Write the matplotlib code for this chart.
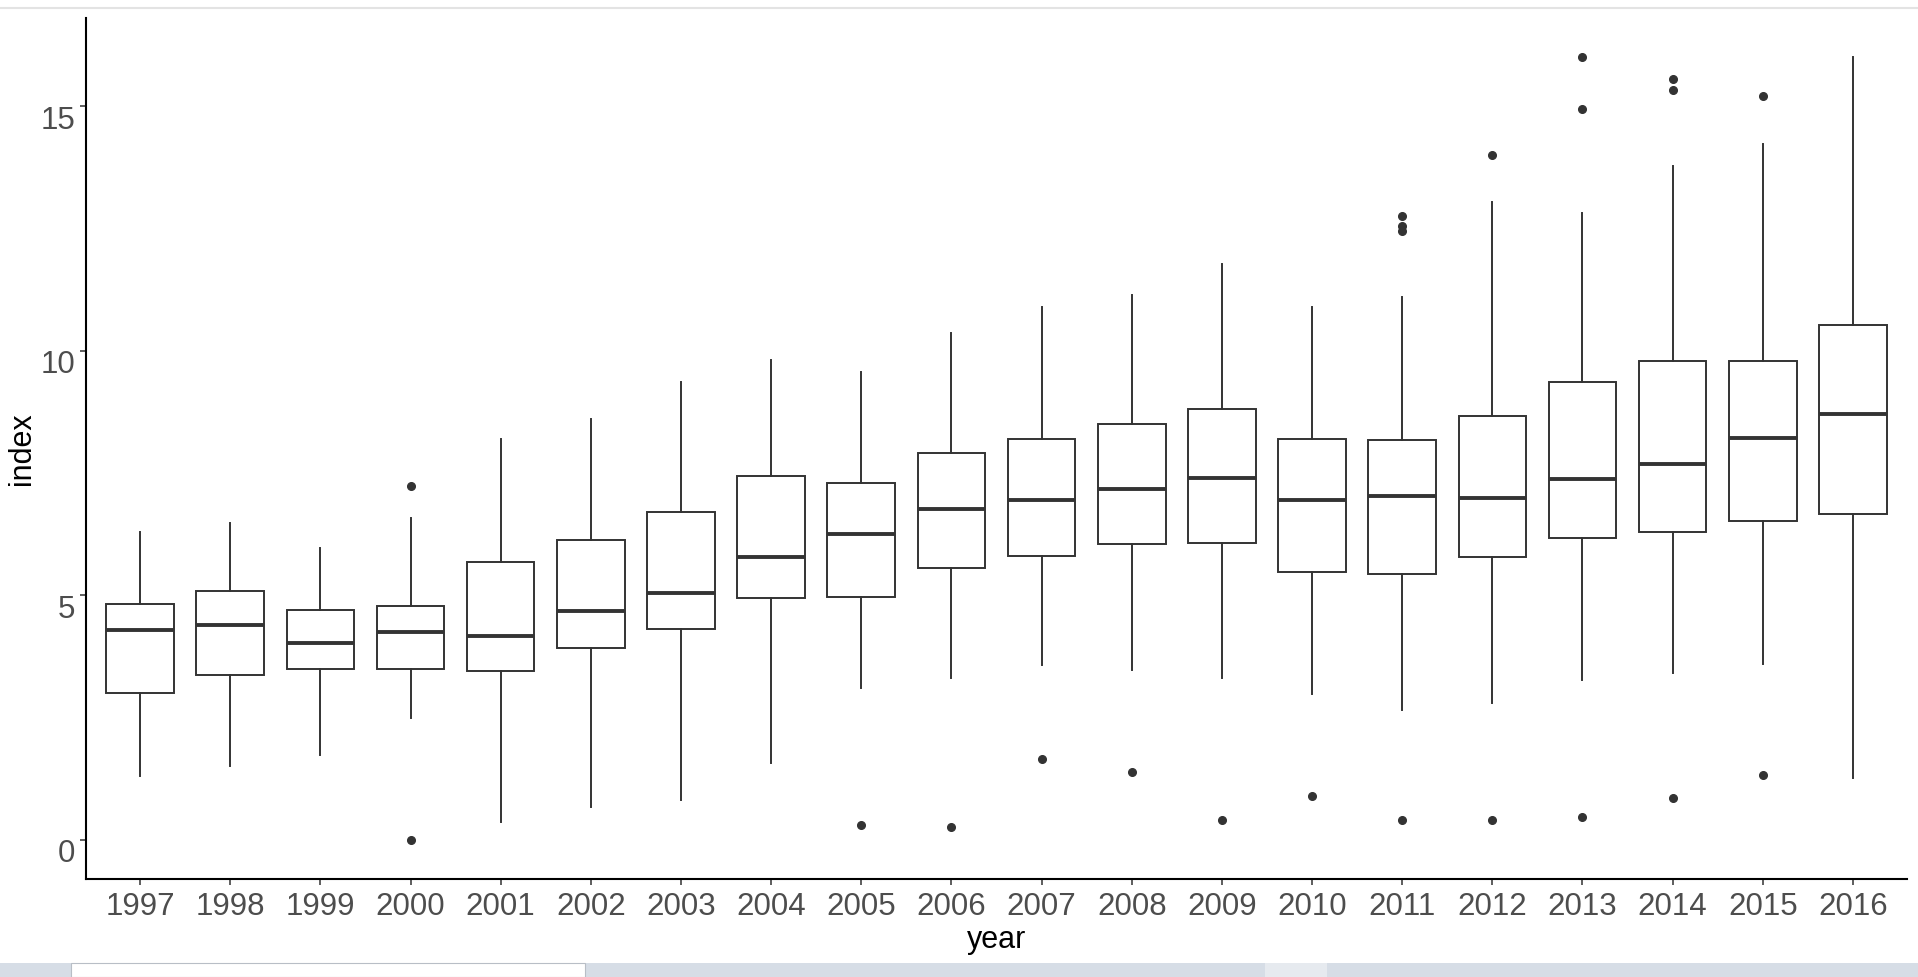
import matplotlib
matplotlib.use("Agg")
import matplotlib.pyplot as plt
from matplotlib.patches import Rectangle
from matplotlib.lines import Line2D
from matplotlib.transforms import ScaledTranslation

plt.rcParams['font.family'] = ['Liberation Sans', 'DejaVu Sans']

years = [str(y) for y in range(1997, 2017)]
whislo = [1.30, 1.52, 1.74, 2.50, 0.36, 0.67, 0.82, 1.58, 3.11, 3.30,
          3.57, 3.48, 3.30, 2.99, 2.66, 2.80, 3.26, 3.42, 3.60, 1.26]
q1 = [3.01, 3.38, 3.50, 3.50, 3.46, 3.93, 4.32, 4.94, 4.96, 5.55,
      5.80, 6.05, 6.07, 5.47, 5.44, 5.78, 6.17, 6.30, 6.51, 6.67]
med = [4.28, 4.40, 4.03, 4.25, 4.16, 4.67, 5.04, 5.78, 6.26, 6.76,
       6.94, 7.18, 7.40, 6.94, 7.03, 6.99, 7.37, 7.68, 8.22, 8.71]
q3 = [4.82, 5.09, 4.69, 4.78, 5.67, 6.13, 6.71, 7.44, 7.29, 7.90,
      8.20, 8.51, 8.81, 8.20, 8.17, 8.67, 9.36, 9.78, 9.78, 10.53]
whishi = [6.29, 6.48, 5.96, 6.57, 8.20, 8.61, 9.35, 9.81, 9.57, 10.36,
          10.89, 11.13, 11.77, 10.89, 11.10, 13.03, 12.81, 13.78, 14.23, 16.0]
outliers = [[], [], [], [7.24, 0.0], [], [], [], [], [0.30], [0.27],
            [1.66], [1.39], [0.41], [0.90], [12.75, 12.54, 12.45, 0.41],
            [13.99, 0.40], [16.0, 14.95, 0.46], [15.55, 15.33, 0.85],
            [15.20, 1.32], []]

stats = []
for i in range(len(years)):
    stats.append(dict(med=med[i], q1=q1[i], q3=q3[i], whislo=whislo[i],
                      whishi=whishi[i], fliers=outliers[i], label=years[i]))

W, H = 1918, 977
fig = plt.figure(figsize=(W / 100, H / 100), dpi=100)
ax = fig.add_axes([86 / W, 1 - 879 / H, (1907 - 86) / W, (879 - 18) / H])

line = '#333333'
ax.bxp(stats, positions=range(1, 21), widths=0.75, showcaps=False,
       patch_artist=True,
       boxprops=dict(facecolor='white', edgecolor=line, linewidth=1.4),
       whiskerprops=dict(color=line, linewidth=1.4),
       medianprops=dict(color=line, linewidth=2.8, solid_capstyle='butt'),
       flierprops=dict(marker='o', markerfacecolor=line, markeredgecolor=line,
                       markersize=5.5, linestyle='none'))

ax.set_xlim(0.4, 20.6)
ax.set_ylim(-0.8, 16.8)
ax.set_yticks([0, 5, 10, 15])
ax.set_xticks(range(1, 21))
ax.set_xticklabels(years)

for s in ['top', 'right']:
    ax.spines[s].set_visible(False)
for s in ['left', 'bottom']:
    ax.spines[s].set_color('black')
    ax.spines[s].set_linewidth(1.5)

ax.tick_params(axis='both', colors=line, labelcolor='#4D4D4D', labelsize=22.5,
               length=4, width=1.1, pad=4)

# the y labels in the screenshot sit a little under their ticks
shift = ScaledTranslation(0, -0.11, fig.dpi_scale_trans)
for lab in ax.get_yticklabels():
    lab.set_transform(lab.get_transform() + shift)
xshift = ScaledTranslation(0, -0.02, fig.dpi_scale_trans)
for lab in ax.get_xticklabels():
    lab.set_transform(lab.get_transform() + xshift)

ax.set_xlabel('year', fontsize=22, color='black', labelpad=2)
ax.set_ylabel('index', fontsize=22, color='black')
ax.yaxis.set_label_coords(-0.027, 0.5)

# window chrome from the screenshot
fig.add_artist(Line2D([0, 1], [1 - 8 / H, 1 - 8 / H], color='#e3e3e3',
                      linewidth=1.5, transform=fig.transFigure))
fig.add_artist(Rectangle((0, 0), 1, 14 / H, transform=fig.transFigure,
                         facecolor='#d6dde6', edgecolor='none'))
fig.add_artist(Rectangle((71 / W, 0), (585 - 71) / W, 14 / H,
                         transform=fig.transFigure, facecolor='white',
                         edgecolor='#b8bec6', linewidth=0.8))
fig.add_artist(Rectangle((1265 / W, 0), (1327 - 1265) / W, 14 / H,
                         transform=fig.transFigure, facecolor='#e6eaef',
                         edgecolor='none'))

fig.savefig('out.png', dpi=100)
